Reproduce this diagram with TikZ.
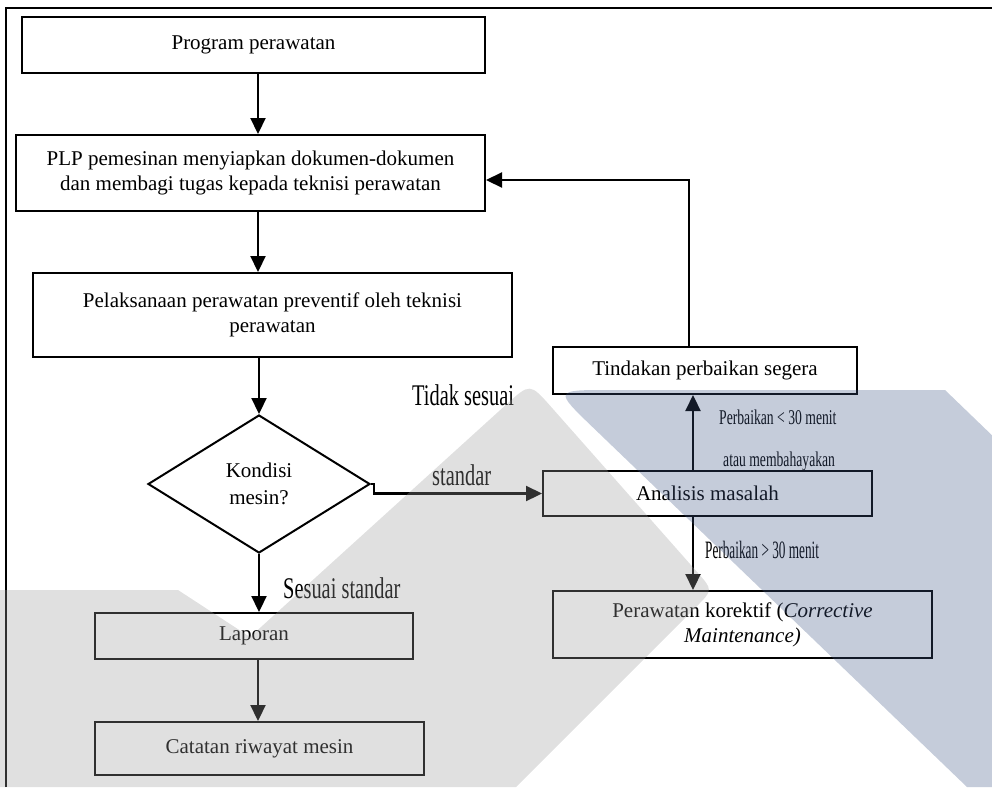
\documentclass[tikz,border=0pt]{standalone}
\usepackage{fontspec}
\setmainfont{Liberation Serif}
\newfontfamily\lblfont[FakeStretch=0.68]{Liberation Serif}
\newfontfamily\notefont[FakeStretch=0.65]{Liberation Serif}
\newfontfamily\notefontb[FakeStretch=0.53]{Liberation Serif}
\usetikzlibrary{shapes.geometric,arrows.meta,calc}

\definecolor{wmgrey}{RGB}{155,155,155}
\definecolor{wmnavy}{RGB}{62,85,132}

\begin{document}
\begin{tikzpicture}[x=1pt,y=-1pt,
  box/.style={draw=black, line width=2pt, inner sep=0pt, align=center,
    font=\fontsize{21}{25}\selectfont},
  decision/.style={diamond, aspect=1.6, draw=black, line width=2pt, inner sep=0pt,
    align=center, font=\fontsize{21}{27}\selectfont},
  arr/.style={line width=2.2pt, -{Triangle[length=16pt,width=15pt]}},
  biglbl/.style={anchor=base west, inner sep=0pt, font=\fontsize{30}{30}\lblfont},
  note/.style={anchor=base west, inner sep=0pt, font=\fontsize{21}{21}\notefont},
  noteb/.style={anchor=base west, inner sep=0pt, font=\fontsize{25}{25}\notefontb}]

\useasboundingbox (0,0) rectangle (992,787);

% outer frame
\draw[line width=1.5pt] (6,787) -- (6,8) -- (992,8);

% process boxes
\node[box, minimum width=463pt, minimum height=56pt] (prog) at (253.5,45) {Program perawatan};
\node[box, minimum width=469pt, minimum height=76pt] (plp) at (250.5,173)
  {PLP pemesinan menyiapkan dokumen-dokumen\\dan membagi tugas kepada teknisi perawatan};
\node[box, minimum width=479pt, minimum height=84pt] (pel) at (272.5,315)
  {Pelaksanaan perawatan preventif oleh teknisi\\perawatan};
\node[decision, minimum width=222pt, minimum height=138pt] (dia) at (259,484) {Kondisi\\mesin?};
\node[box, minimum width=318pt, minimum height=46pt] (lap) at (254,636) {Laporan};
\node[box, minimum width=329pt, minimum height=53pt] (cat) at (259.5,748.5) {Catatan riwayat mesin};
\node[box, minimum width=304pt, minimum height=47pt] (tind) at (705,370.5) {Tindakan perbaikan segera};
\node[box, minimum width=329pt, minimum height=45pt] (ana) at (707.5,493.5) {Analisis masalah};
\node[box, minimum width=379pt, minimum height=67pt] (kor) at (742.5,624.5)
  {Perawatan korektif (\textit{Corrective}\\\textit{Maintenance)}};

% connector guide lines
\coordinate (sx) at (258,0);
\coordinate (rx) at (693,0);
\coordinate (lx) at (689,0);

% connectors
\draw[arr] (prog.south -| sx) -- (plp.north -| sx);
\draw[arr] (plp.south -| sx) -- (pel.north -| sx);
\draw[arr] (pel.south -| dia.north) -- (dia.north);
\draw[arr] (dia.south) -- (lap.north -| dia.south);
\draw[arr] (lap.south -| sx) -- (cat.north -| sx);
\draw[arr] (dia.east) -- ++(3,0) |- (ana.west);
\draw[arr] (ana.north -| rx) -- (tind.south -| rx);
\draw[arr] (ana.south -| rx) -- (kor.north -| rx);
\draw[arr] (tind.north -| lx) |- ($(plp.east)+(0,7)$);

% branch labels
\node[biglbl] (ltidak) at (412,405) {Tidak sesuai};
\node[biglbl] (lstd) at (432,485) {standar};
\node[biglbl] (lsesuai) at (283,598) {Sesuai standar};
\node[note] (lkurang) at (719,424) {Perbaikan < 30 menit};
\node[note] (lbahaya) at (723,466) {atau membahayakan};
\node[noteb] (llebih) at (705,558) {Perbaikan > 30 menit};

% translucent logo shapes laid over the chart
\coordinate (ga) at (530,383);
\coordinate (gb) at (713,590);
\coordinate (nc) at (554,390);
\begin{scope}
  \clip (0,0) rectangle (992,787);
  \fill[wmgrey, fill opacity=0.31]
    (0,590) -- (178,590) -- (250,637)
    -- ($(ga)!32pt!(250,637)$) .. controls (ga) .. ($(ga)!32pt!(gb)$)
    -- ($(gb)!24pt!(ga)$) .. controls (gb) .. ($(gb)!24pt!(516,787)$)
    -- (516,787) -- (0,787) -- cycle;
  \fill[wmnavy, fill opacity=0.3]
    ($(nc)!55pt!(967,787)$) .. controls (nc) .. ($(nc)!55pt!(945,390)$)
    -- (945,390) -- (1000,443) -- (1000,787) -- (967,787) -- cycle;
\end{scope}
\end{tikzpicture}
\end{document}
